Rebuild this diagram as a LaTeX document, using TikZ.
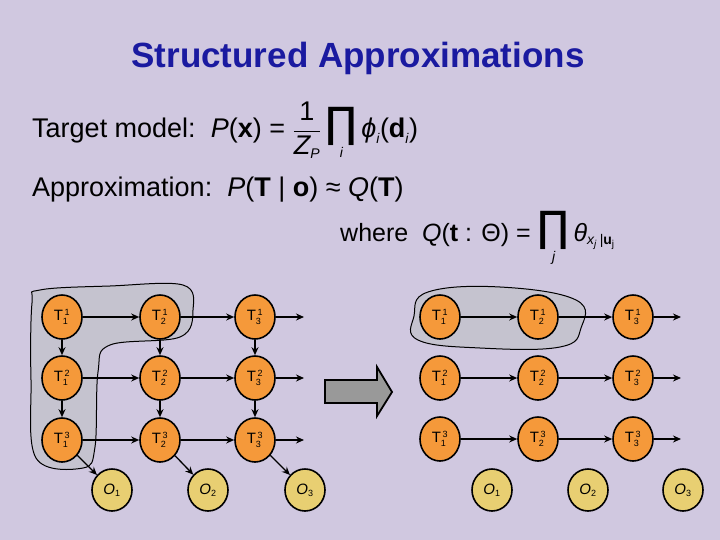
\documentclass[tikz,border=0pt]{standalone}
\usepackage{fontspec}
\setmainfont{Liberation Sans}
\newfontfamily\dejavu{DejaVu Sans}
\usetikzlibrary{arrows.meta,shapes.geometric}
\definecolor{bg}{HTML}{D0C8E0}
\definecolor{tnode}{HTML}{F5993A}
\definecolor{onode}{HTML}{E8CF72}
\definecolor{blob}{HTML}{C5C3CF}
\definecolor{ttl}{HTML}{1A1AA0}
\newcommand{\sm}[1]{\mbox{\fontsize{14}{14}\selectfont #1}}
\newcommand{\bprod}{\mathop{\mbox{\dejavu\fontsize{42}{42}\selectfont ∏}}\limits}
\newcommand{\tl}[2]{T$_{\mbox{\fontsize{9}{9}\selectfont #1}}^{\,\mbox{\fontsize{9}{9}\selectfont #2}}$}
\newcommand{\ol}[1]{\textit{O}$_{\mbox{\fontsize{9}{9}\selectfont #1}}$}
\begin{document}
\begin{tikzpicture}[x=1pt,y=-1pt,
  tn/.style={ellipse,draw=black,line width=1.6pt,fill=tnode,minimum width=40pt,minimum height=44pt,inner sep=0pt,font=\fontsize{15}{15}\selectfont},
  on/.style={ellipse,draw=black,line width=1.6pt,fill=onode,minimum width=40pt,minimum height=42pt,inner sep=0pt,font=\fontsize{15}{15}\selectfont},
  ar/.style={-{Stealth[length=8pt,width=7pt]},line width=1.3pt},
  bl/.style={fill=blob,draw=black,line width=1pt},
  txt/.style={anchor=west,font=\fontsize{27}{27}\selectfont,inner sep=0pt}]
\useasboundingbox (0,0) rectangle (720,540);
\fill[bg] (0,0) rectangle (720,540);
\node[font=\bfseries\fontsize{35}{35}\selectfont,text=ttl] (title) at (358,58) {Structured Approximations};
\node[txt] (t1) at (32,130) {Target model:\ \ \textit{P}(\textbf{x}) = $\displaystyle\frac{\mbox{1}}{\mbox{\itshape Z}_{\sm{\itshape P}}}\bprod_{\sm{\itshape i}} \mbox{\itshape ϕ}_{\sm{\itshape i}}\mbox{(\bfseries d}_{\sm{\itshape i}}\mbox{)}$};
\node[txt] (t2) at (32,190) {Approximation:\ \ \textit{P}(\textbf{T} | \textbf{o}) ≈ \textit{Q}(\textbf{T})};
\node[txt,font=\fontsize{25}{25}\selectfont] (t3) at (340,238) {where\ \ \textit{Q}(\textbf{t} : Θ) = $\displaystyle\bprod_{\sm{\itshape j}} \mbox{\itshape θ}_{\sm{\itshape x$_{\mbox{\fontsize{10}{10}\selectfont j}}$}\,\sm{|\textbf{u}$_{\mbox{\fontsize{10}{10}\selectfont j}}$}}$};
% blobs
\draw[bl] plot[smooth cycle,tension=0.6] coordinates {(40,290) (110,286) (183,285) (193,310) (180,337) (110,345) (98,372) (95,447) (83,468) (36,458) (31,380) (32,303)};
\draw[bl] plot[smooth cycle,tension=0.7] coordinates {(414,316) (428,292) (500,287) (576,300) (581,328) (560,347) (480,348) (418,340)};
% middle arrow
\draw[fill=gray!80!white,draw=black,line width=1.8pt,line join=miter] (325,380) -- (377,380) -- (377,367) -- (392,392) -- (377,416) -- (377,403) -- (325,403) -- cycle;
% left graph
\foreach \c/\x in {1/62,2/160,3/255}{
  \foreach \r/\y in {1/317,2/378,3/440}{
    \node[tn] (L\c\r) at (\x,\y) {\tl{\c}{\r}};
  }
}
\foreach \c/\x in {1/112,2/208,3/305}{\node[on] (LO\c) at (\x,490) {\ol{\c}};}
\foreach \r/\y in {1/317,2/378,3/440}{
  \coordinate (LE\r) at (304,\y);
  \draw[ar] (L1\r) -- (L2\r);
  \draw[ar] (L2\r) -- (L3\r);
  \draw[ar] (L3\r) -- (LE\r);
}
\foreach \c in {1,2,3}{
  \draw[ar] (L\c1) -- (L\c2);
  \draw[ar] (L\c2) -- (L\c3);
  \draw[ar] (L\c3) -- (LO\c);
}
% right graph
\foreach \c/\x in {1/440,2/538,3/633}{
  \foreach \r/\y in {1/317,2/378,3/439}{
    \node[tn] (R\c\r) at (\x,\y) {\tl{\c}{\r}};
  }
}
\foreach \c/\x in {1/492,2/588,3/683}{\node[on] (RO\c) at (\x,490) {\ol{\c}};}
\foreach \r/\y in {1/317,2/378,3/439}{
  \coordinate (RE\r) at (681,\y);
  \draw[ar] (R1\r) -- (R2\r);
  \draw[ar] (R2\r) -- (R3\r);
  \draw[ar] (R3\r) -- (RE\r);
}
\end{tikzpicture}
\end{document}
